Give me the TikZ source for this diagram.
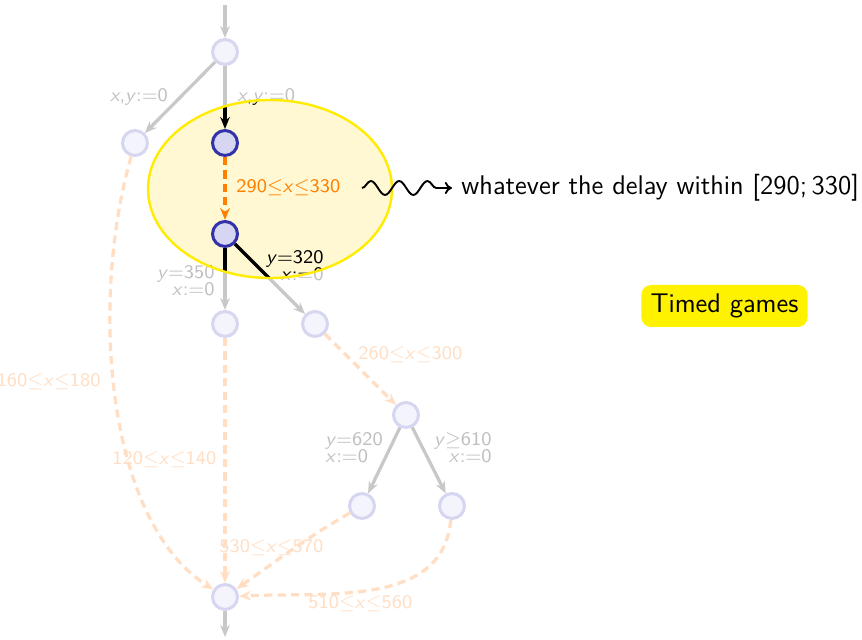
\documentclass[tikz,border=0pt]{standalone}
\usepackage{fontspec}
\usetikzlibrary{arrows.meta,decorations.pathmorphing}

\definecolor{stateline}{RGB}{50,50,170}
\definecolor{statefill}{RGB}{214,214,242}
\definecolor{paleline}{RGB}{214,214,240}
\definecolor{palefill}{RGB}{244,244,252}
\definecolor{palegray}{RGB}{200,200,200}
\definecolor{paletext}{RGB}{192,192,192}
\definecolor{paleorange}{RGB}{255,222,196}
\definecolor{delayorange}{RGB}{255,128,0}
\definecolor{zonefill}{RGB}{255,248,210}
\definecolor{zoneline}{RGB}{255,236,0}
\definecolor{gamebox}{RGB}{255,242,0}

\newcommand\vx{\textit{x}}
\newcommand\vy{\textit{y}}

% colour sets for the two passes over the game graph
\tikzset{
  tip/.style={-{Stealth[length=5pt,width=4pt]}},
  palecolours/.style={
    stt/.style={circle, inner sep=0pt, minimum size=10.4pt, line width=1.25pt, draw=paleline, fill=palefill},
    tr/.style={draw=palegray, line width=1.35pt, tip},
    del/.style={draw=paleorange, line width=1.35pt, dash pattern=on 3.4pt off 2.2pt, tip},
    lab/.style={text=paletext, font=\fontsize{8}{7.2}\selectfont\sffamily, inner sep=0pt},
    olab/.style={text=paleorange, font=\fontsize{8}{7.2}\selectfont\sffamily, inner sep=0pt}
  },
  fullcolours/.style={
    stt/.style={circle, inner sep=0pt, minimum size=10.4pt, line width=1.25pt, draw=stateline, fill=statefill},
    tr/.style={draw=black, line width=1.35pt, tip},
    del/.style={draw=delayorange, line width=1.35pt, dash pattern=on 3.4pt off 2.2pt, tip},
    lab/.style={text=black, font=\fontsize{8}{7.2}\selectfont\sffamily, inner sep=0pt},
    olab/.style={text=delayorange, font=\fontsize{8}{7.2}\selectfont\sffamily, inner sep=0pt}
  }
}

% the game graph, drawn with whatever colour set is in force
\newcommand\gamegraph{%
  \coordinate (in) at (225,5);
  \coordinate (out) at (225,637);
  \node[stt] (A) at (225,52) {};
  \node[stt] (B) at (135,143) {};
  \node[stt] (C) at (225,143) {};
  \node[stt] (D) at (225,234) {};
  \node[stt] (E) at (225,324) {};
  \node[stt] (F) at (315,324) {};
  \node[stt] (G) at (406,415) {};
  \node[stt] (H) at (362,506) {};
  \node[stt] (I) at (452,506) {};
  \node[stt] (J) at (225,597) {};
  % controllable transitions
  \draw[tr] (in) -- (A);
  \draw[tr] (A) -- (B);
  \draw[tr] (A) -- (C);
  \draw[tr] (D) -- (E);
  \draw[tr] (D) -- (F);
  \draw[tr] (G) -- (H);
  \draw[tr] (G) -- (I);
  \draw[tr] (J) -- (out);
  % delay transitions
  \draw[del] (C) -- (D);
  \draw[del] (F) -- (G);
  \draw[del] (E) -- (J);
  \draw[del] (B) .. controls (90,300) and (105,520) .. (J);
  \draw[del] (H) to[out=-150,in=35] (J);
  \draw[del] (I) to[out=-95,in=3] (J);
  % guards and resets
  \node[lab, anchor=center] (lAB) at (139,97) {\vx,\vy:=0};
  \node[lab, anchor=west] (lAC) at (237,97) {\vx,\vy:=0};
  \node[olab, anchor=west] (lCD) at (236,188) {290$\leq$\vx$\leq$330};
  \node[lab, anchor=east, align=right] (lDE) at (215,281) {\vy=350\\\vx:=0};
  \node[lab, anchor=east, align=right] (lDF) at (324,266) {\vy=320\\\vx:=0};
  \node[olab, anchor=west] (lFG) at (358,355) {260$\leq$\vx$\leq$300};
  \node[lab, anchor=west, align=left] (lGH) at (325,448) {\vy=620\\\vx:=0};
  \node[lab, anchor=east, align=right] (lGI) at (492,448) {\vy$\geq$610\\\vx:=0};
  \node[olab, anchor=east] (lBJ) at (101,382) {160$\leq$\vx$\leq$180};
  \node[olab, anchor=west] (lEJ) at (112,460) {120$\leq$\vx$\leq$140};
  \node[olab, anchor=west] (lHJ) at (219,548) {530$\leq$\vx$\leq$570};
  \node[olab, anchor=west] (lIJ) at (308,604) {510$\leq$\vx$\leq$560};
}

\begin{document}
\begin{tikzpicture}[x=0.4167pt, y=-0.4167pt, font=\sffamily]
\useasboundingbox (0,0) rectangle (862,640);

% faded graph everywhere
\begin{scope}[palecolours]
  \gamegraph
\end{scope}

% highlighted zone: the graph in full colour inside it
\fill[zonefill] (270,189) ellipse [x radius=122, y radius=89];
\begin{scope}[fullcolours]
  \clip (270,189) ellipse [x radius=122, y radius=89];
  \gamegraph
\end{scope}
\draw[zoneline, line width=1pt] (270,189) ellipse [x radius=122, y radius=89];

% annotation
\coordinate (w1) at (362,188);
\coordinate (w2) at (452,188);
\draw[line width=0.8pt, decorate,
  decoration={snake, amplitude=2.9pt, segment length=11.8pt, post length=3pt},
  -{To[length=3pt,width=5pt]}] (w1) -- (w2);
\node[anchor=west, inner sep=0pt, font=\fontsize{11.25}{13}\selectfont\sffamily] (note) at (461,188)
  {whatever the delay within [290;\,330]};

\node[fill=gamebox, rounded corners=4pt, inner xsep=3.8pt, minimum height=17.5pt,
  font=\fontsize{11.25}{13}\selectfont\sffamily] (tg) at (724.5,306) {Timed games};
\end{tikzpicture}
\end{document}
